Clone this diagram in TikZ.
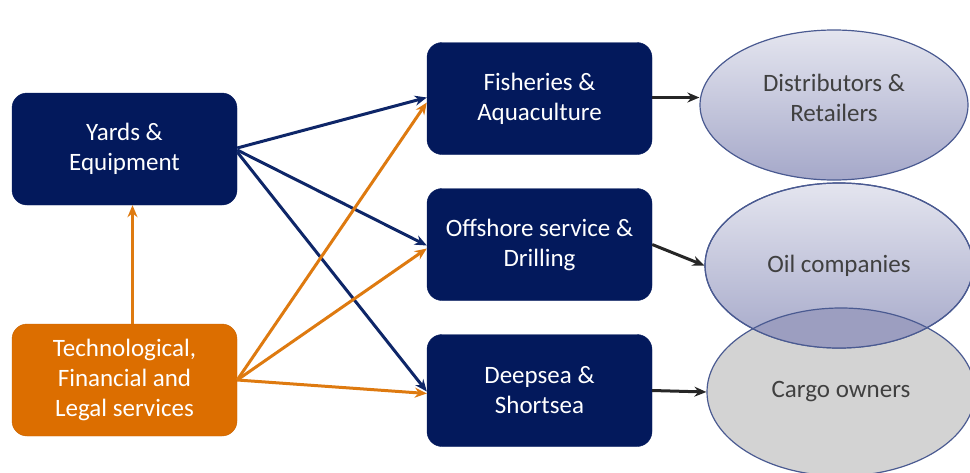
\documentclass[tikz,border=0pt]{standalone}
\usepackage{fontspec}
\setmainfont{Carlito}
\usetikzlibrary{shapes.geometric,arrows.meta}
\definecolor{navybox}{HTML}{03195C}
\definecolor{navyline}{HTML}{0E2668}
\definecolor{orangebox}{HTML}{DC6E00}
\definecolor{orangeline}{HTML}{DE7A10}
\definecolor{ovaltop}{HTML}{E4E5EF}
\definecolor{ovalbottom}{HTML}{A5A8C9}
\definecolor{ovalrim}{HTML}{4A5A91}
\definecolor{cargogrey}{HTML}{D3D3D3}
\definecolor{lensfill}{HTML}{9C9EC0}
\begin{document}
\begin{tikzpicture}[x=1pt,y=1pt,node distance=146pt]
            \tikzstyle{sector} = [rectangle, draw=navybox, fill=navybox, text=white, minimum width=225pt, minimum height=112pt, rounded corners=15pt, align=center, font=\fontsize{25}{30}\selectfont]
            \tikzstyle{support} = [sector, draw=orangebox!90!black, fill=orangebox]
            \tikzstyle{market} = [ellipse, draw=ovalrim, line width=1.2pt, top color=ovaltop, bottom color=ovalbottom, minimum width=268pt, text=black!75, align=center, font=\fontsize{25}{30}\selectfont]
            \tikzstyle{navyarrow} = [draw=navyline, line width=3pt, -{Stealth[length=12pt,width=10pt]}]
            \tikzstyle{orangearrow} = [navyarrow, draw=orangeline, fill=orangeline]
            \tikzstyle{arrow} = [navyarrow, draw=black!85, fill=black!85]

            \useasboundingbox (0,0) rectangle (970,-472);

            \node (yards) [sector] at (124.5,-149) {Yards \&\\Equipment};
            \node (tech) [support, below of=yards, node distance=231pt] {Technological,\\Financial and\\Legal services};

            \node (fish) [sector] at (539.5,-98.5) {Fisheries \&\\Aquaculture};
            \node (offshore) [sector, below of=fish] {Offshore service \&\\Drilling};
            \node (deepsea) [sector, below of=offshore] {Deepsea \&\\Shortsea};

            \node (retail) [market, minimum height=150pt] at (834,-105) {\raisebox{-2pt}[0pt][0pt]{\begin{tabular}{@{}c@{}}Distributors \&\\Retailers\end{tabular}}};
            \node (cargo) [market, top color=cargogrey, bottom color=cargogrey, minimum height=168pt] at (841,-392) {Cargo owners};
            \node (oil) [market, minimum height=165pt] at (839,-265.5) {Oil companies};
            \begin{scope}
                \clip (oil.center) ellipse [x radius=134pt, y radius=82.5pt];
                \filldraw [fill=lensfill, draw=ovalrim, line width=1.2pt] (cargo.center) ellipse [x radius=134pt, y radius=84pt];
            \end{scope}
            \draw [ovalrim, line width=1.2pt] (oil.center) ellipse [x radius=134pt, y radius=82.5pt];

            \draw [orangearrow] ([xshift=8pt]tech.north) -- ([xshift=8pt]yards.south);

            \draw [navyarrow] ([yshift=1pt]yards.east) -- ([yshift=1pt]fish.west);
            \draw [navyarrow] ([yshift=-1pt]yards.east) -- ([yshift=-1pt]offshore.west);
            \draw [navyarrow] ([yshift=-3pt]yards.east) -- ([yshift=-1pt]deepsea.west);

            \draw [orangearrow] (tech.east) -- ([yshift=-4pt]fish.west);
            \draw [orangearrow] (tech.east) -- ([yshift=-4pt]offshore.west);
            \draw [orangearrow] (tech.east) -- ([yshift=-3pt]deepsea.west);

            \draw [arrow] ([yshift=1pt]fish.east) -- ([yshift=1pt]fish.east -| retail.west);
            \draw [arrow] (offshore.east) -- (oil.west);
            \draw [arrow] (deepsea.east) -- (cargo.west);
        \end{tikzpicture}
\end{document}
